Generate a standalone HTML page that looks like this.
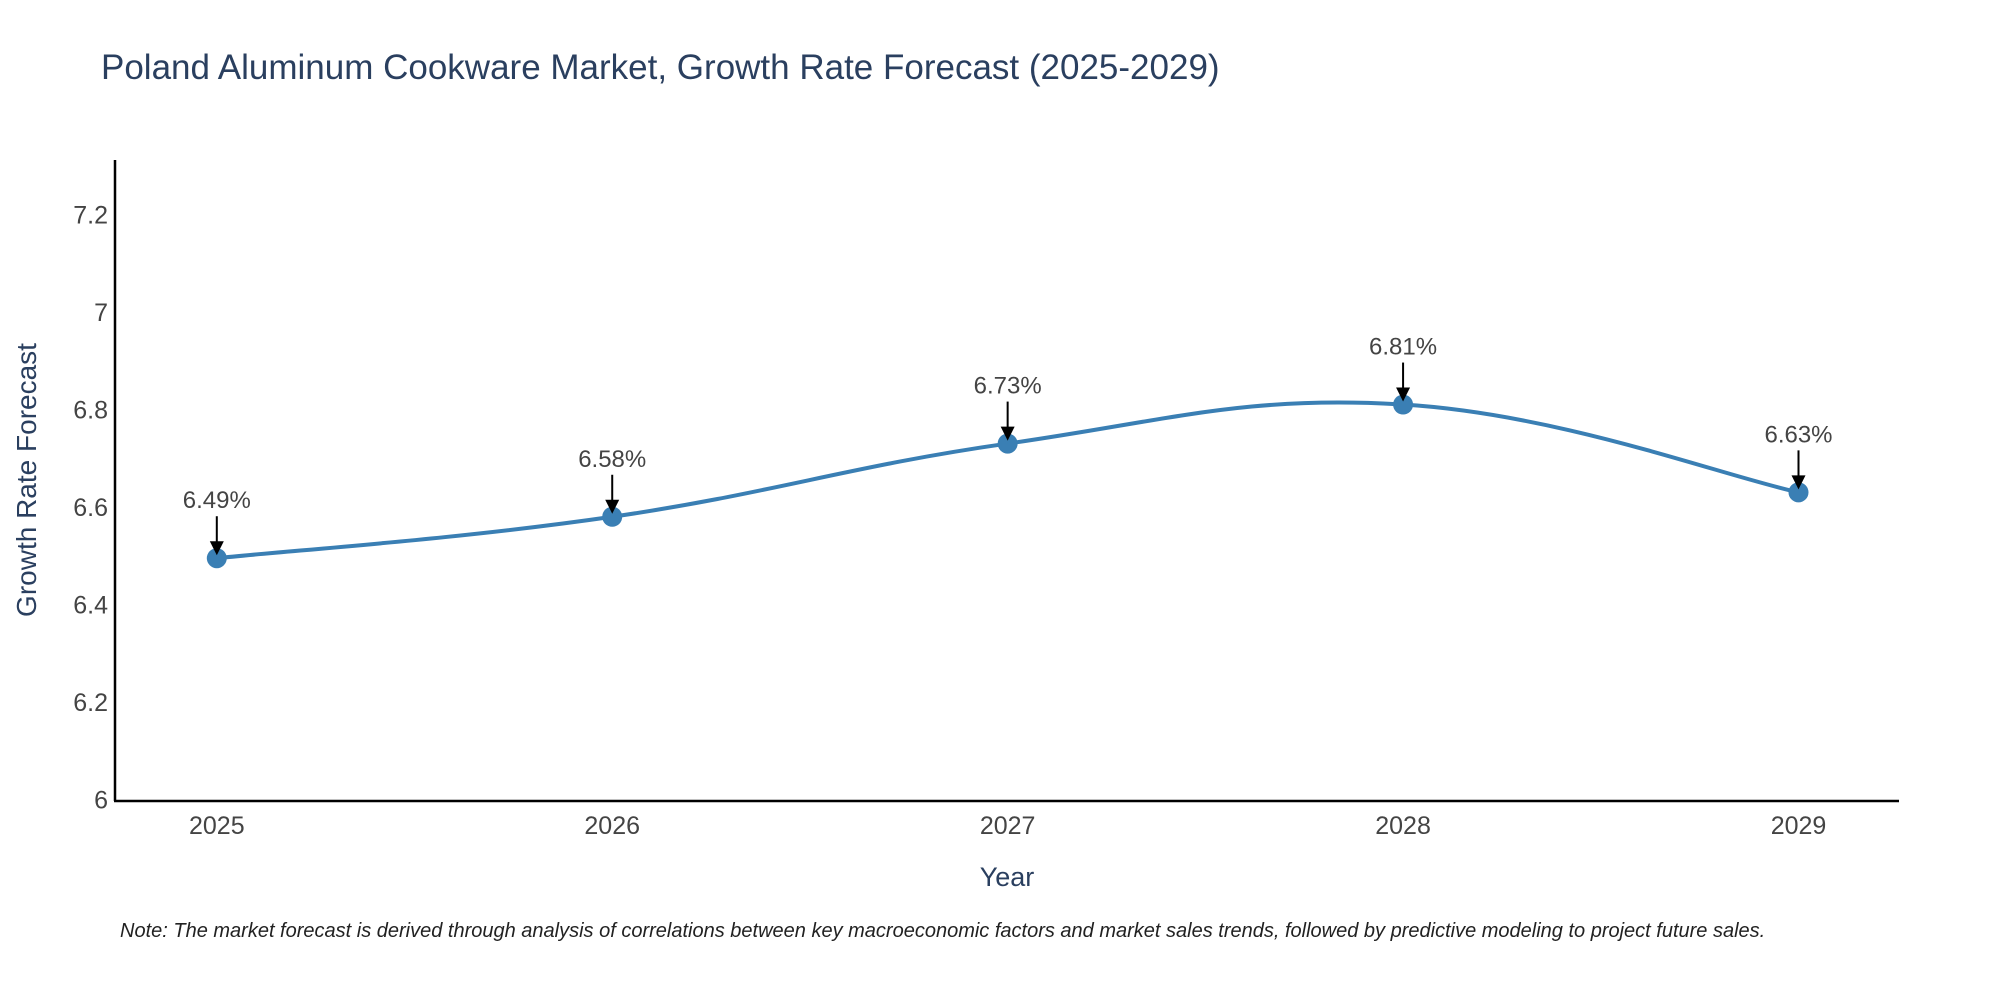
<!DOCTYPE html>
<html><head><meta charset="utf-8"><style>
body{margin:0;background:#fff;}
svg{display:block;font-family:"Liberation Sans","DejaVu Sans",sans-serif;}
</style></head><body>
<svg id="chart" width="2000" height="1000" viewBox="0 0 2000 1000">
<text x="101" y="79" font-size="35" fill="#2a3f5f">Poland Aluminum Cookware Market, Growth Rate Forecast (2025-2029)</text>
<g id="grid"></g>
<line x1="115" y1="160" x2="115" y2="801" stroke="#000" stroke-width="2.5"/>
<line x1="114" y1="801" x2="1899" y2="801" stroke="#000" stroke-width="2.5"/>
<text x="1007" y="886" font-size="27" fill="#2a3f5f" text-anchor="middle">Year</text>
<text transform="translate(36,480) rotate(-90)" font-size="28" fill="#2a3f5f" text-anchor="middle">Growth Rate Forecast</text>
<text x="120" y="937" font-size="20" font-style="italic" fill="#222">Note: The market forecast is derived through analysis of correlations between key macroeconomic factors and market sales trends, followed by predictive modeling to project future sales.</text>
</svg>
<script>
const years = [2025, 2026, 2027, 2028, 2029];
const rates = [6.495, 6.58, 6.73, 6.81, 6.63];
const labels = ["6.49%", "6.58%", "6.73%", "6.81%", "6.63%"];
const yTicks = [6, 6.2, 6.4, 6.6, 6.8, 7, 7.2];
const svg = document.getElementById('chart');
const g = document.getElementById('grid');
const NS = 'http://www.w3.org/2000/svg';
function xs(v){ return 216.8 + (v - 2025) * (1798.5 - 216.8) / 4; }
function ys(v){ return 799.7 - (v - 6) * (799.7 - 214.3) / 1.2; }
function mk(tag, attrs){ const e = document.createElementNS(NS, tag); for (const k in attrs) e.setAttribute(k, attrs[k]); return e; }
yTicks.forEach(t => {
  const tx = mk('text', {x: 108, y: ys(t) + 9, 'font-size': 25, fill: '#444', 'text-anchor': 'end'});
  
  
  tx.textContent = String(t);
  g.appendChild(tx);
});
years.forEach(yr => {
  const tx = mk('text', {x: xs(yr), y: 834, 'font-size': 25, fill: '#444', 'text-anchor': 'middle'});
  
  
  tx.textContent = String(yr);
  g.appendChild(tx);
});
const pts = years.map((y, i) => [xs(y), ys(rates[i])]);
let d = 'M' + pts[0][0] + ',' + pts[0][1];
const tension = 0.2;
for (let i = 0; i < pts.length - 1; i++) {
  const p0 = pts[Math.max(0, i - 1)], p1 = pts[i], p2 = pts[i + 1], p3 = pts[Math.min(pts.length - 1, i + 2)];
  const c1 = [p1[0] + (p2[0] - p0[0]) * tension, p1[1] + (p2[1] - p0[1]) * tension];
  const c2 = [p2[0] - (p3[0] - p1[0]) * tension, p2[1] - (p3[1] - p1[1]) * tension];
  d += ' C' + c1.join(',') + ' ' + c2.join(',') + ' ' + p2.join(',');
}
const line = mk('path', {d: d, fill: 'none', stroke: '#3a7fb4', 'stroke-width': 4});


svg.appendChild(line);
pts.forEach((p, i) => {
  const c = mk('circle', {cx: p[0], cy: p[1], r: 10, fill: '#3a7fb4'});
  
  
  svg.appendChild(c);
  const a = mk('line', {x1: p[0], y1: p[1] - 42, x2: p[0], y2: p[1] - 14, stroke: '#000', 'stroke-width': 2});
  
  
  svg.appendChild(a);
  const h = mk('polygon', {points: (p[0]-7)+','+(p[1]-17)+' '+(p[0]+7)+','+(p[1]-17)+' '+p[0]+','+(p[1]-3), fill: '#000'});
  
  
  svg.appendChild(h);
  const t = mk('text', {x: p[0], y: p[1] - 50, 'font-size': 24, fill: '#444', 'text-anchor': 'middle'});
  
  
  t.textContent = labels[i];
  svg.appendChild(t);
});
</script>
</body></html>
